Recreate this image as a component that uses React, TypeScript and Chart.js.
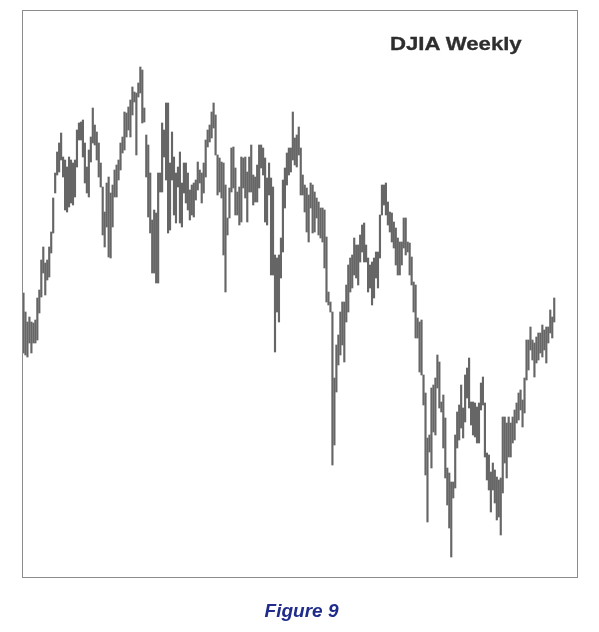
import React, { useEffect, useRef } from "react";
import { Chart, registerables } from "chart.js";

Chart.register(...registerables);

const TITLE = "DJIA Weekly";
const CAPTION = "Figure 9";

// Weekly high / low values (index points), oldest first
const HIGHS = [
  775, 756, 746, 751, 746, 745, 748, 770, 778, 808, 821, 805, 808, 821, 836, 870, 895, 916, 925, 935,
  911, 908, 901, 911, 908, 905, 908, 938, 945, 946, 948, 925, 901, 918, 931, 960, 943, 936, 925, 905,
  881, 856, 885, 891, 875, 883, 898, 903, 908, 925, 931, 956, 955, 961, 968, 981, 976, 975, 985, 1001,
  998, 960, 933, 923, 895, 848, 858, 855, 895, 895, 945, 938, 965, 965, 905, 936, 911, 895, 901, 916,
  885, 905, 905, 895, 878, 883, 885, 888, 906, 898, 895, 905, 928, 938, 943, 956, 965, 953, 913, 910,
  906, 905, 883, 850, 880, 920, 921, 900, 876, 881, 911, 910, 911, 896, 911, 923, 893, 891, 903, 923,
  923, 920, 910, 890, 905, 890, 881, 813, 810, 813, 830, 888, 900, 915, 920, 920, 956, 930, 933, 941,
  920, 893, 883, 880, 873, 885, 883, 876, 870, 866, 860, 860, 858, 831, 776, 766, 756, 690, 723, 733,
  756, 766, 766, 783, 803, 810, 813, 830, 823, 823, 833, 843, 845, 823, 810, 803, 806, 810, 816, 816,
  853, 883, 883, 885, 866, 856, 855, 846, 840, 830, 826, 826, 850, 850, 826, 825, 811, 786, 783, 750,
  746, 748, 693, 675, 630, 633, 680, 683, 690, 713, 706, 666, 673, 650, 600, 595, 586, 586, 633, 656,
  663, 683, 660, 693, 700, 710, 666, 666, 665, 661, 665, 685, 691, 665, 615, 613, 596, 605, 598, 591,
  588, 590, 651, 651, 645, 651, 645, 651, 658, 665, 675, 678, 668, 690, 728, 728, 741, 728, 725, 731,
  735, 735, 743, 738, 741, 741, 758, 751, 770
];

const LOWS = [
  715, 713, 711, 725, 715, 725, 725, 728, 755, 771, 795, 773, 788, 791, 815, 835, 875, 893, 896, 908,
  891, 858, 856, 861, 865, 863, 871, 901, 928, 928, 911, 885, 875, 871, 906, 925, 923, 908, 891, 881,
  833, 821, 841, 811, 810, 841, 871, 871, 888, 898, 915, 918, 931, 938, 931, 953, 966, 913, 971, 975,
  945, 946, 891, 851, 835, 795, 795, 785, 785, 876, 876, 911, 888, 835, 838, 888, 853, 845, 881, 845,
  841, 875, 865, 858, 848, 853, 851, 868, 878, 885, 865, 875, 891, 921, 926, 930, 940, 913, 873, 876,
  870, 813, 776, 833, 850, 876, 880, 853, 853, 843, 846, 880, 870, 846, 876, 876, 863, 866, 866, 880,
  900, 893, 846, 843, 873, 793, 793, 716, 756, 746, 790, 816, 860, 883, 893, 896, 908, 903, 901, 913,
  873, 873, 856, 836, 826, 860, 835, 836, 850, 833, 830, 826, 800, 766, 763, 756, 603, 623, 676, 703,
  713, 723, 706, 746, 756, 776, 780, 793, 790, 783, 806, 816, 806, 806, 776, 780, 763, 770, 790, 780,
  810, 853, 863, 853, 843, 836, 826, 820, 803, 793, 793, 803, 820, 813, 816, 793, 783, 756, 730, 730,
  696, 693, 663, 593, 546, 616, 600, 636, 633, 680, 660, 656, 620, 590, 563, 540, 511, 570, 580, 620,
  628, 640, 630, 646, 670, 660, 643, 633, 631, 625, 625, 658, 663, 611, 588, 578, 556, 578, 565, 548,
  551, 533, 575, 605, 590, 611, 611, 625, 628, 645, 648, 658, 641, 655, 688, 698, 718, 708, 691, 705,
  708, 715, 711, 718, 705, 725, 735, 730, 746
];

const WEEKS = HIGHS.map((_, i) => i);

const framePlugin = {
  id: "frame",
  afterDraw(chart: any) {
    const { ctx, chartArea } = chart;
    const { left, top, right, bottom } = chartArea;
    ctx.save();
    ctx.strokeStyle = "#8c8c8c";
    ctx.lineWidth = 1;
    ctx.strokeRect(left + 0.5, top + 0.5, right - left - 1, bottom - top - 1);
    ctx.restore();
  },
};

export default function App() {
  const canvasRef = useRef<HTMLCanvasElement | null>(null);

  useEffect(() => {
    const canvas = canvasRef.current;
    if (!canvas) return;
    const chart = new Chart(canvas, {
      type: "bar",
      data: {
        datasets: [
          {
            label: "DJIA",
            data: WEEKS.map((w, i) => ({ x: w, y: [LOWS[i], HIGHS[i]] })) as any,
            backgroundColor: "#666666",
            borderWidth: 0,
            barThickness: 1.5,
          },
        ],
      },
      options: {
        responsive: false,
        animation: false,
        layout: { padding: { left: 22, top: 10, right: 21, bottom: 54 } },
        plugins: {
          legend: { display: false },
          title: { display: false },
          tooltip: { enabled: false },
        },
        scales: {
          x: { type: "linear", display: false, offset: false, bounds: "ticks", min: -0.75, max: 280 },
          y: { type: "linear", display: false, min: 490, max: 1058 },
        },
      },
      plugins: [framePlugin],
    });
    return () => chart.destroy();
  }, []);

  return (
    <div style={{ position: "absolute", left: 0, top: 0, width: 599, height: 632, background: "#fff" }}>
      <canvas ref={canvasRef} width={599} height={632} style={{ display: "block" }} />
      <div
        style={{
          position: "absolute",
          left: 390,
          top: 35,
          fontFamily: "'Liberation Sans', Arial, sans-serif",
          fontWeight: 700,
          fontSize: 18,
          lineHeight: "18px",
          color: "#2e2e2e",
          whiteSpace: "nowrap",
          transform: "scaleX(1.23)",
          transformOrigin: "left top",
          WebkitTextStroke: "0.3px #2e2e2e",
        }}
      >
        {TITLE}
      </div>
      <div
        style={{
          position: "absolute",
          left: 0,
          width: 603,
          top: 601,
          textAlign: "center",
          fontFamily: "'Liberation Sans', Arial, sans-serif",
          fontWeight: 700,
          fontStyle: "italic",
          fontSize: 19,
          lineHeight: "19px",
          color: "#1f2c8a",
          whiteSpace: "nowrap",
        }}
      >
        {CAPTION}
      </div>
    </div>
  );
}
